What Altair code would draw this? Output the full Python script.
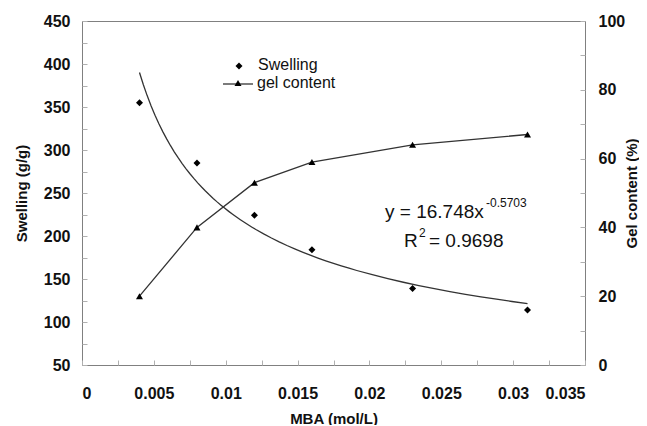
import altair as alt
import pandas as pd

# ---- data ----
mba = [0.004, 0.008, 0.012, 0.016, 0.023, 0.031]
swelling = [355, 285, 224, 184, 139, 114]
gel_content = [20, 40, 53, 59, 64, 67]

x_ticks = [0, 0.0025, 0.005, 0.0075, 0.01, 0.0125, 0.015, 0.0175, 0.02,
           0.0225, 0.025, 0.0275, 0.03, 0.0325, 0.035]
left_ticks = [50, 75, 100, 125, 150, 175, 200, 225, 250, 275, 300, 325,
              350, 375, 400, 425, 450]
right_ticks = [0, 10, 20, 30, 40, 50, 60, 70, 80, 90, 100]

df = pd.DataFrame({"MBA": mba, "Swelling": swelling, "Gel": gel_content})

FONT = "Liberation Sans"
TXT = "#111111"
LINE = "#333333"

axis_common = dict(
    domain=False, tickColor="#b0b0b0", tickSize=5, offset=-5,
    labelFont=FONT, labelFontSize=16, labelFontWeight="bold", labelColor=TXT,
    titleFont=FONT, titleFontSize=15, titleFontWeight="bold", titleColor=TXT,
    labelOverlap=False, grid=False,
)

X = alt.X(
    "MBA:Q",
    scale=alt.Scale(domain=[0, 0.035], nice=False, zero=False),
    axis=alt.Axis(
        values=x_ticks, title="MBA (mol/L)",
        labelExpr="round(datum.value*10000) % 50 == 0 ? format(datum.value, '~g') : ''",
        labelPadding=20, titlePadding=10, **axis_common,
    ),
)

Y_sw = alt.Y(
    "Swelling:Q",
    scale=alt.Scale(domain=[50, 450], nice=False, zero=False),
    axis=alt.Axis(
        orient="left", values=left_ticks, title="Swelling (g/g)",
        labelExpr="datum.value % 50 == 0 ? datum.label : ''",
        labelPadding=12, titlePadding=14, **axis_common,
    ),
)

Y_gel = alt.Y(
    "Gel:Q",
    scale=alt.Scale(domain=[0, 100], nice=False, zero=False),
    axis=alt.Axis(
        orient="right", values=right_ticks, title="Gel content (%)",
        labelExpr="datum.value % 20 == 0 ? datum.label : ''",
        labelPadding=13, titlePadding=7, titleAngle=270, titleBaseline="middle",
        **axis_common,
    ),
)

base = alt.Chart(df)

fit = base.transform_regression("MBA", "Swelling", method="pow").mark_line(
    color=LINE, strokeWidth=1.3
).encode(x=X, y=Y_sw)

sw_pts = base.mark_point(
    shape="diamond", filled=True, size=49, color="black", opacity=1
).encode(x=X, y=Y_sw)

one = alt.Data(values=[{}])


def txt(s, x, y, size, align="left"):
    return alt.Chart(one).mark_text(
        font=FONT, fontSize=size, color=TXT, align=align, baseline="middle"
    ).encode(x=alt.value(x), y=alt.value(y), text=alt.value(s))


# legend (inside the plot)
leg_dia = alt.Chart(one).mark_point(
    shape="diamond", filled=True, size=49, color="black", opacity=1
).encode(x=alt.value(157), y=alt.value(45))
leg_line = alt.Chart(one).mark_rule(color=LINE, strokeWidth=1.3).encode(
    x=alt.value(141), x2=alt.value(171), y=alt.value(63)
)
leg_tri = alt.Chart(one).mark_point(
    shape="triangle-up", filled=True, size=49, color="black", opacity=1
).encode(x=alt.value(156), y=alt.value(62))

annotations = [
    leg_dia, leg_line, leg_tri,
    txt("Swelling", 176, 44, 16),
    txt("gel content", 175, 62, 16),
    txt("y = 16.748x", 303, 191, 19),
    txt("-0.5703", 404, 182, 12),
    txt("R", 322, 220, 19),
    txt("2", 337, 212, 12),
    txt("= 0.9698", 347, 220, 19),
]

left = alt.layer(fit, sw_pts, *annotations)

gel_line = base.mark_line(color=LINE, strokeWidth=1.3).encode(x=X, y=Y_gel)
gel_pts = base.mark_point(
    shape="triangle-up", filled=True, size=49, color="black", opacity=1
).encode(x=X, y=Y_gel)
right = alt.layer(gel_line, gel_pts)

chart = (
    alt.layer(left, right)
    .resolve_scale(y="independent")
    .properties(
        width=503, height=344,
        autosize=alt.AutoSizeParams(type="none"),
        padding={"left": 74, "top": 13, "right": 54, "bottom": 60},
        background="white",
    )
    .configure_view(stroke="#808080", strokeWidth=1)
)

chart.save("out.html", embed_options={"renderer": "svg", "actions": False})
